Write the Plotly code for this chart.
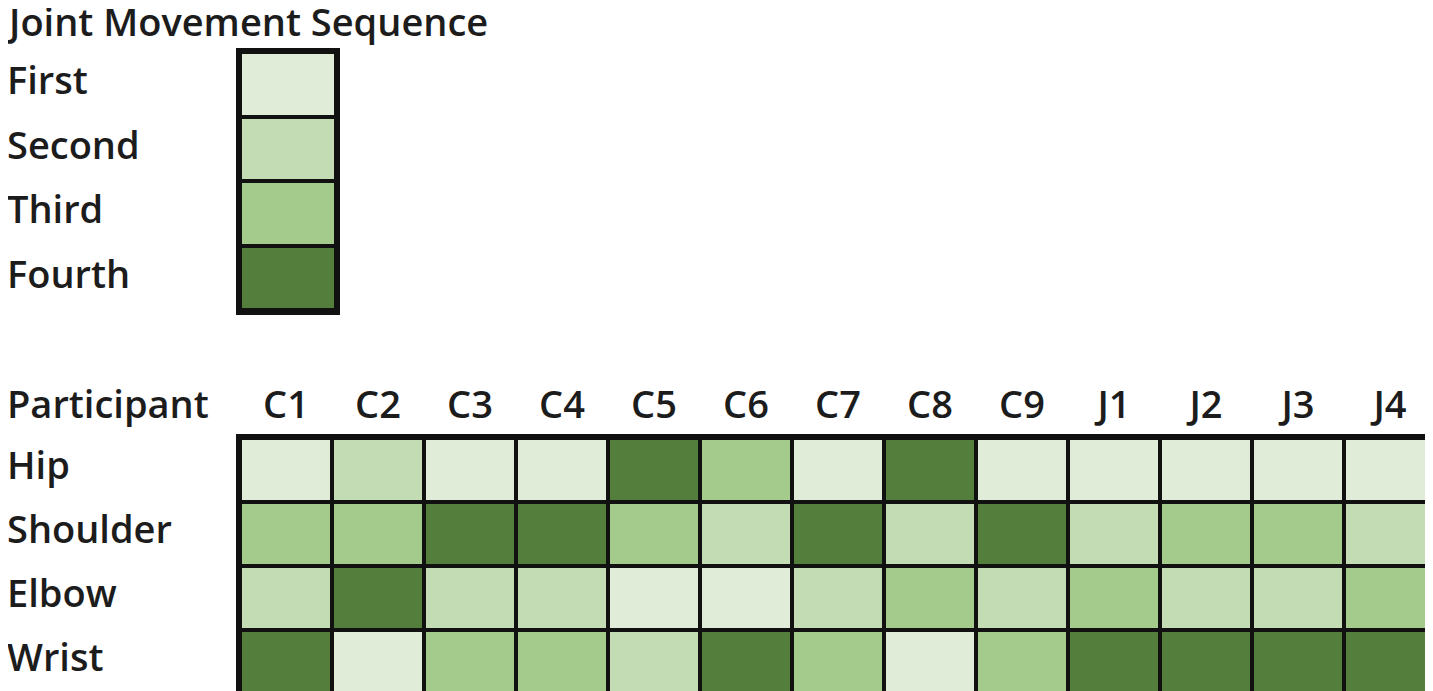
import plotly.graph_objects as go

# ---- data ----
participants = ["C1", "C2", "C3", "C4", "C5", "C6", "C7", "C8", "C9", "J1", "J2", "J3", "J4"]
joints = ["Hip", "Shoulder", "Elbow", "Wrist"]
hip = [1, 2, 1, 1, 4, 3, 1, 4, 1, 1, 1, 1, 1]
shoulder = [3, 3, 4, 4, 3, 2, 4, 2, 4, 2, 3, 3, 2]
elbow = [2, 4, 2, 2, 1, 1, 2, 3, 2, 3, 2, 2, 3]
wrist = [4, 1, 3, 3, 2, 4, 3, 1, 3, 4, 4, 4, 4]
order_labels = ["First", "Second", "Third", "Fourth"]
order_values = [1, 2, 3, 4]
colors = ["#e0ecd8", "#c3dcb3", "#a4cb8b", "#547e3b"]

W, H = 1433, 691
FONT = "Open Sans"
TXT = "#1c1c1c"
FS = 38

cs = []
for i, c in enumerate(colors):
    cs.append([i / 4, c])
    cs.append([(i + 1) / 4, c])

def px_x(p):
    return p / W

def px_y(p):
    return 1 - p / H

fig = go.Figure()

# main grid
fig.add_trace(go.Heatmap(
    z=[hip, shoulder, elbow, wrist], x=participants, y=joints,
    colorscale=cs, zmin=0.5, zmax=4.5, showscale=False,
    xgap=4, ygap=4, hoverinfo="skip",
    xaxis="x", yaxis="y",
))

# legend column
fig.add_trace(go.Heatmap(
    z=[[v] for v in order_values], x=["key"], y=order_labels,
    colorscale=cs, zmin=0.5, zmax=4.5, showscale=False,
    xgap=4, ygap=4, hoverinfo="skip",
    xaxis="x2", yaxis="y2",
))

ax_common = dict(showline=True, mirror=True, linecolor="#111111", linewidth=4,
                 showgrid=False, zeroline=False, ticks="")

tfont = dict(size=FS, family=FONT, color=TXT, weight=600)

fig.update_layout(
    width=W, height=H,
    margin=dict(l=0, r=0, t=0, b=0),
    paper_bgcolor="white", plot_bgcolor="#111111",
    font=dict(family=FONT, color=TXT),
    xaxis=dict(domain=[px_x(232), px_x(1428)], side="top",
               tickfont=tfont, ticklabelstandoff=1, **ax_common),
    yaxis=dict(domain=[px_y(688), px_y(430)], autorange="reversed",
               showticklabels=False, **ax_common),
    xaxis2=dict(domain=[px_x(232), px_x(328)], anchor="y2",
                showticklabels=False, **ax_common),
    yaxis2=dict(domain=[px_y(303), px_y(44)], anchor="x2", autorange="reversed",
                showticklabels=False, **ax_common),
)

LX = px_x(-3)
annotations = []
annotations.append(dict(text="Joint Movement Sequence", xref="paper", yref="paper",
                        x=LX, y=px_y(13), xanchor="left", yanchor="middle",
                        borderpad=0, showarrow=False, font=tfont))
annotations.append(dict(text="Participant", xref="paper", yref="paper",
                        x=LX, y=px_y(395), xanchor="left", yanchor="middle",
                        showarrow=False, font=tfont))
for lab in order_labels:
    annotations.append(dict(text=lab, xref="paper", yref="y2", x=LX, y=lab,
                            xanchor="left", yanchor="middle", yshift=5,
                            showarrow=False, font=tfont))
for j in joints:
    annotations.append(dict(text=j, xref="paper", yref="y", x=LX, y=j,
                            xanchor="left", yanchor="middle", yshift=6,
                            showarrow=False, font=tfont))
fig.update_layout(annotations=annotations)

fig.write_html("out.html")
